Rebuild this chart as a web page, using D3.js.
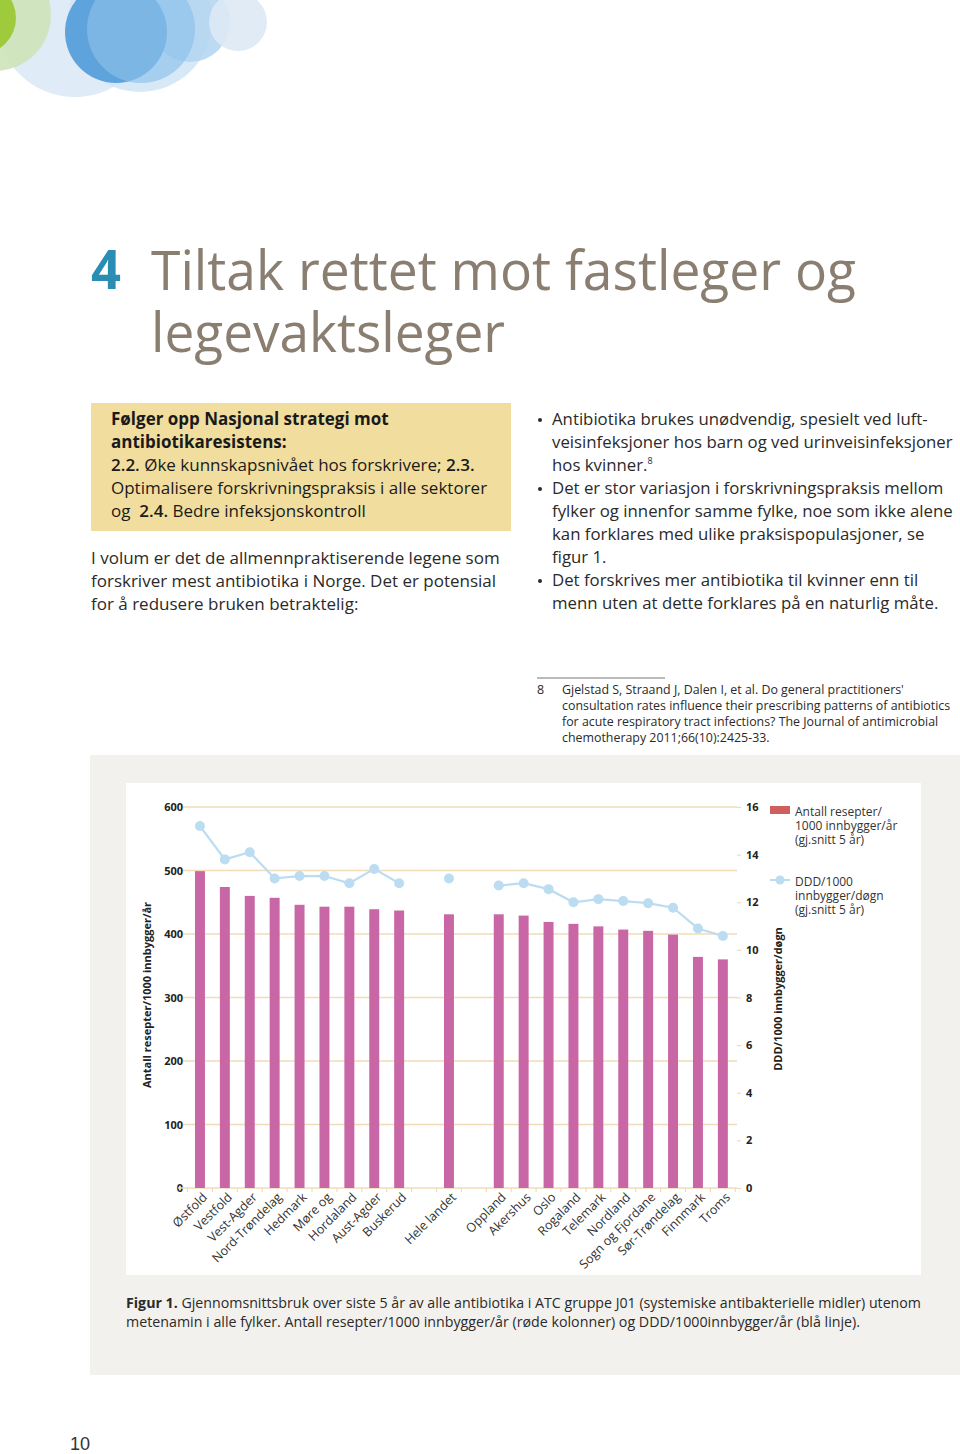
<!DOCTYPE html>
<html><head><meta charset="utf-8">
<script src="https://cdn.jsdelivr.net/npm/d3@7"></script>
<style>
body{margin:0;background:#fff;}
svg{display:block;font-family:"Open Sans",sans-serif;}
</style></head>
<body>
<svg id="page" width="960" height="1454"></svg>
<script>
// ---------- DATA ----------
const categories = ["Østfold","Vestfold","Vest-Agder","Nord-Trøndelag","Hedmark","Møre og","Hordaland","Aust-Agder","Buskerud","","Hele landet","","Oppland","Akershus","Oslo","Rogaland","Telemark","Nordland","Sogn og Fjordane","Sør-Trøndelag","Finnmark","Troms"];
const prescriptions = [499,474,460,457,446,443,443,439,437,null,431,null,431,429,419,416,412,407,405,399,364,360];
const ddd = [15.2,13.8,14.1,13.0,13.1,13.1,12.8,13.4,12.8,null,13.0,null,12.7,12.8,12.55,12.0,12.13,12.05,11.96,11.77,10.9,10.58];
const leftTicks = [0,100,200,300,400,500,600];
const rightTicks = [0,2,4,6,8,10,12,14,16];
const legendBar = ["Antall resepter/","1000 innbygger/år","(gj.snitt 5 år)"];
const legendLine = ["DDD/1000","innbygger/døgn","(gj.snitt 5 år)"];

const svg = d3.select("#page");

// ---------- decorative circles ----------
const circles = [
  {cx:75,cy:18,r:79,c:"#dfebf7",o:1},
  {cx:-5,cy:15,r:56,c:"#cfe3b9",o:0.9},
  {cx:-20,cy:18,r:36,c:"#9dcb3c",o:1},
  {cx:140,cy:20,r:72,c:"#d3e5f6",o:0.9},
  {cx:190,cy:22,r:40,c:"#b5d6f1",o:0.9},
  {cx:238,cy:22,r:29,c:"#dde9f5",o:0.9},
  {cx:116,cy:32,r:51,c:"#5ea3dc",o:1},
  {cx:141,cy:29,r:54,c:"#8cc0ea",o:0.65}
];
svg.selectAll("circle.deco").data(circles).join("circle").attr("class","deco")
  .attr("cx",d=>d.cx).attr("cy",d=>d.cy).attr("r",d=>d.r)
  .attr("fill",d=>d.c).attr("opacity",d=>d.o);

// ---------- title ----------
svg.append("text").attr("x",91).attr("y",289).attr("font-size",54).attr("font-weight",700)
  .attr("fill","#2b8db3").attr("textLength",30).attr("lengthAdjust","spacingAndGlyphs").text("4");
svg.append("text").attr("x",151).attr("y",290).attr("font-size",55).attr("font-weight",400)
  .attr("fill","#8a7e70").attr("textLength",705).attr("lengthAdjust","spacingAndGlyphs")
  .text("Tiltak rettet mot fastleger og");
svg.append("text").attr("x",151).attr("y",352).attr("font-size",55).attr("font-weight",400)
  .attr("fill","#8a7e70").attr("textLength",354).attr("lengthAdjust","spacingAndGlyphs")
  .text("legevaktsleger");

// ---------- yellow box ----------
svg.append("rect").attr("x",91).attr("y",403).attr("width",420).attr("height",128).attr("fill","#f1dd9e");
const boxLines = [
  [{t:"Følger opp Nasjonal strategi mot",w:700}],
  [{t:"antibiotikaresistens:",w:700}],
  [{t:"2.2. ",w:600},{t:"Øke kunnskapsnivået hos forskrivere; ",w:400},{t:"2.3.",w:600}],
  [{t:"Optimalisere forskrivningspraksis i alle sektorer",w:400}],
  [{t:"og  ",w:400},{t:"2.4.",w:600},{t:" Bedre infeksjonskontroll",w:400}]
];
boxLines.forEach((ln,i)=>{
  const t = svg.append("text").attr("x",111).attr("y",425+i*23).attr("font-size",17).attr("fill","#1a1a1a").attr("xml:space","preserve");
  ln.forEach(s=>t.append("tspan").attr("font-weight",s.w).text(s.t));
});

const para = ["I volum er det de allmennpraktiserende legene som","forskriver mest antibiotika i Norge. Det er potensial","for å redusere bruken betraktelig:"];
para.forEach((s,i)=>svg.append("text").attr("x",91).attr("y",564+i*23).attr("font-size",17).attr("fill","#2a2a2a").text(s));

// ---------- right column bullets ----------
const rightLines = [
  {t:"Antibiotika brukes unødvendig, spesielt ved luft-",b:true},
  {t:"veisinfeksjoner hos barn og ved urinveisinfeksjoner"},
  {t:"hos kvinner.",sup:"8"},
  {t:"Det er stor variasjon i forskrivningspraksis mellom",b:true},
  {t:"fylker og innenfor samme fylke, noe som ikke alene"},
  {t:"kan forklares med ulike praksispopulasjoner, se"},
  {t:"figur 1."},
  {t:"Det forskrives mer antibiotika til kvinner enn til",b:true},
  {t:"menn uten at dette forklares på en naturlig måte."}
];
rightLines.forEach((l,i)=>{
  const y = 425+i*23;
  if(l.b) svg.append("circle").attr("cx",540).attr("cy",y-5).attr("r",2).attr("fill","#2a2a2a");
  const t = svg.append("text").attr("x",552).attr("y",y).attr("font-size",16.8).attr("fill","#2a2a2a").text(l.t);
  if(l.sup) t.append("tspan").attr("font-size",9).attr("dy",-7).text(l.sup);
});

// ---------- footnote ----------
svg.append("line").attr("x1",537).attr("x2",665).attr("y1",678).attr("y2",678).attr("stroke","#777").attr("stroke-width",1);
svg.append("text").attr("x",537).attr("y",694).attr("font-size",12.5).attr("fill","#2a2a2a").text("8");
const foot = ["Gjelstad S, Straand J, Dalen I, et al. Do general practitioners'","consultation rates influence their prescribing patterns of antibiotics","for acute respiratory tract infections? The Journal of antimicrobial","chemotherapy 2011;66(10):2425-33."];
foot.forEach((s,i)=>svg.append("text").attr("x",562).attr("y",694+i*16).attr("font-size",12.4).attr("fill","#2a2a2a").text(s));

// ---------- figure panel ----------
svg.append("rect").attr("x",90).attr("y",755).attr("width",870).attr("height",620).attr("fill","#f3f1ed");
svg.append("rect").attr("x",126).attr("y",783).attr("width",795).attr("height",492).attr("fill","#ffffff");

const idx = d3.range(categories.length);
const x = d3.scaleBand().domain(idx).range([187.5,735.3]).paddingInner(0.6).paddingOuter(0.3);
const yL = d3.scaleLinear().domain([0,600]).range([1188,807]);
const yR = d3.scaleLinear().domain([0,16]).range([1188,807]);
const grid = "#f1dcb9";

// gridlines
svg.append("g").selectAll("line").data(leftTicks.filter(d=>d>0)).join("line")
  .attr("x1",183).attr("x2",737).attr("y1",d=>yL(d)).attr("y2",d=>yL(d))
  .attr("stroke",grid).attr("stroke-width",1.3);

// left axis labels
svg.append("g").selectAll("text").data(leftTicks).join("text")
  .attr("x",183).attr("y",d=>yL(d)+4).attr("text-anchor","end")
  .attr("font-size",11).attr("font-weight",700).attr("fill","#222").text(d=>d);

// right axis
const rAxis = svg.append("g").attr("transform","translate(737,0)")
  .call(d3.axisRight(yR).tickValues(rightTicks).tickSize(4).tickPadding(5));
rAxis.select(".domain").remove();
rAxis.selectAll(".tick line").attr("stroke",grid).attr("stroke-width",1.2);
rAxis.selectAll(".tick text").attr("font-size",11).attr("font-weight",700).attr("fill","#222")
  .attr("font-family","Open Sans");

// x axis
const xAxis = svg.append("g").attr("transform","translate(0,1188)");
xAxis.append("line").attr("x1",178).attr("x2",737).attr("y1",0).attr("y2",0).attr("stroke",grid).attr("stroke-width",1.3);
xAxis.selectAll("line.tk").data(d3.range(categories.length+1)).join("line").attr("class","tk")
  .attr("x1",d=>187.5+d*x.step()).attr("x2",d=>187.5+d*x.step()).attr("y1",0).attr("y2",4)
  .attr("stroke",grid).attr("stroke-width",1.2);
xAxis.selectAll("text").data(idx.filter(i=>categories[i]!=="")).join("text")
  .attr("transform",i=>`translate(${x(i)+x.bandwidth()/2+8},${10}) rotate(-45)`)
  .attr("text-anchor","end").attr("font-size",12.5).attr("fill","#333").text(i=>categories[i]);

// bars
svg.append("g").selectAll("rect").data(idx.filter(i=>prescriptions[i]!=null)).join("rect")
  .attr("x",i=>x(i)).attr("width",x.bandwidth())
  .attr("y",i=>yL(prescriptions[i])).attr("height",i=>yL(0)-yL(prescriptions[i]))
  .attr("fill","#c966a6");

// line
const lineColor = "#bcdcf1";
const line = d3.line().defined(i=>ddd[i]!=null).x(i=>x(i)+x.bandwidth()/2).y(i=>yR(ddd[i]));
svg.append("path").datum(idx).attr("d",line).attr("fill","none").attr("stroke",lineColor).attr("stroke-width",2.2);
svg.append("g").selectAll("circle").data(idx.filter(i=>ddd[i]!=null)).join("circle")
  .attr("cx",i=>x(i)+x.bandwidth()/2).attr("cy",i=>yR(ddd[i])).attr("r",5).attr("fill",lineColor);

// axis titles
svg.append("text").attr("transform","translate(151,995) rotate(-90)").attr("text-anchor","middle")
  .attr("font-size",11).attr("font-weight",700).attr("fill","#222").text("Antall resepter/1000 innbygger/år");
svg.append("text").attr("transform","translate(782,999) rotate(-90)").attr("text-anchor","middle")
  .attr("font-size",11).attr("font-weight",700).attr("fill","#222").text("DDD/1000 innbygger/døgn");

// legend
svg.append("rect").attr("x",770).attr("y",806).attr("width",20).attr("height",8).attr("fill","#cf5f5c");
legendBar.forEach((s,i)=>svg.append("text").attr("x",795).attr("y",816+i*14).attr("font-size",12).attr("fill","#333").text(s));
svg.append("line").attr("x1",770).attr("x2",790).attr("y1",880).attr("y2",880).attr("stroke",lineColor).attr("stroke-width",2);
svg.append("circle").attr("cx",780).attr("cy",880).attr("r",4.5).attr("fill",lineColor);
legendLine.forEach((s,i)=>svg.append("text").attr("x",795).attr("y",886+i*14).attr("font-size",12).attr("fill","#333").text(s));

// caption
const cap1 = svg.append("text").attr("x",126).attr("y",1308).attr("font-size",14).attr("fill","#2a2a2a")
  .attr("textLength",795).attr("lengthAdjust","spacingAndGlyphs");
cap1.append("tspan").attr("font-weight",700).text("Figur 1.");
cap1.append("tspan").text(" Gjennomsnittsbruk over siste 5 år av alle antibiotika i ATC gruppe J01 (systemiske antibakterielle midler) utenom");
svg.append("text").attr("x",126).attr("y",1327).attr("font-size",14).attr("fill","#2a2a2a")
  .attr("textLength",734).attr("lengthAdjust","spacingAndGlyphs")
  .text("metenamin i alle fylker. Antall resepter/1000 innbygger/år (røde kolonner) og DDD/1000innbygger/år (blå linje).");

// page number
svg.append("text").attr("x",70).attr("y",1450).attr("font-size",18).attr("font-family","Liberation Sans, Arial")
  .attr("fill","#333").text("10");
</script>
</body></html>
